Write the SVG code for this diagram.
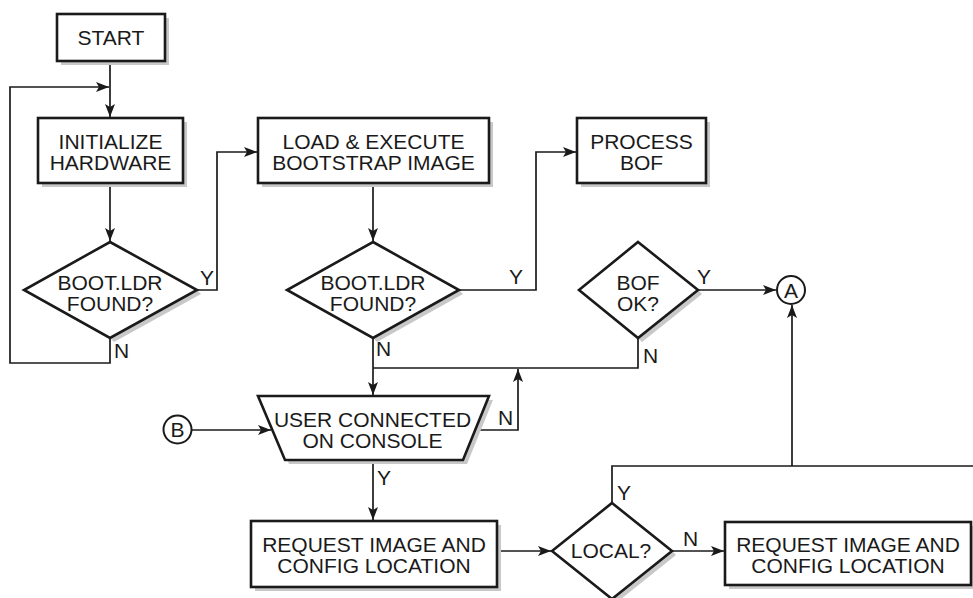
<svg xmlns="http://www.w3.org/2000/svg" width="973" height="598" viewBox="0 0 973 598">
<style>
.box{fill:#fff;stroke:#1a1a1a;stroke-width:2.6}
.sh{fill:#c8c8c8;stroke:none}
.t{font-family:"Liberation Sans",Arial,sans-serif;font-size:21px;fill:#1a1a1a;text-anchor:middle}
.l{font-family:"Liberation Sans",Arial,sans-serif;font-size:21px;fill:#1a1a1a}
.c{fill:none;stroke:#1a1a1a;stroke-width:1.7}
.a{marker-end:url(#arr)}
.circ{fill:#fff;stroke:#1a1a1a;stroke-width:2}
</style>
<defs>
<marker id="arr" markerUnits="userSpaceOnUse" markerWidth="14" markerHeight="10" refX="13" refY="5" orient="auto">
<path d="M0,0 L13,5 L0,10 L3,5 Z" fill="#1a1a1a"/>
</marker>
</defs>
<rect width="973" height="598" fill="#fff"/>

<g id="connectors">
<path class="c a" d="M110,61 V117"/>
<path class="c a" d="M110,338 V363 H10 V87 H109"/>
<path class="c a" d="M110,183 V241"/>
<path class="c a" d="M197,290 H217 V152 H257"/>
<path class="c a" d="M373,183 V241"/>
<path class="c a" d="M459,290 H536 V152 H576"/>
<path class="c a" d="M698,290 H776"/>
<path class="c a" d="M373,338 V395"/>
<path class="c" d="M638,338 V368 H373"/>
<path class="c a" d="M475,430 H518 V369"/>
<path class="c a" d="M192,430 H271"/>
<path class="c a" d="M373,460 V520"/>
<path class="c a" d="M497,551 H551"/>
<path class="c a" d="M672,551 H724"/>
<path class="c" d="M612,503 V466 H973"/>
<path class="c a" d="M792,466 V305"/>
<path class="c" d="M971,555 H973"/>
</g>

<g id="start">
<rect class="sh" x="61" y="18" width="108" height="47"/>
<rect class="box" x="57" y="14" width="108" height="47"/>
<text class="t" x="111" y="45">START</text>
</g>

<g id="init">
<rect class="sh" x="42" y="122" width="145" height="65"/>
<rect class="box" x="38" y="118" width="145" height="65"/>
<text class="t" x="110.5" y="149">INITIALIZE</text>
<text class="t" x="110.5" y="170">HARDWARE</text>
</g>

<g id="d1">
<polygon class="sh" points="197,290 110,338 114,342 201,294"/>
<polygon class="box" points="110,242 197,290 110,338 24,290"/>
<text class="t" x="110" y="290">BOOT.LDR</text>
<text class="t" x="110" y="311">FOUND?</text>
</g>

<g id="load">
<rect class="sh" x="262" y="122" width="231" height="65"/>
<rect class="box" x="258" y="118" width="231" height="65"/>
<text class="t" x="373.5" y="149">LOAD &amp; EXECUTE</text>
<text class="t" x="373.5" y="170">BOOTSTRAP IMAGE</text>
</g>

<g id="d2">
<polygon class="sh" points="459,290 373,338 377,342 463,294"/>
<polygon class="box" points="373,242 459,290 373,338 287,290"/>
<text class="t" x="373" y="290">BOOT.LDR</text>
<text class="t" x="373" y="311">FOUND?</text>
</g>

<g id="process">
<rect class="sh" x="581" y="122" width="129" height="65"/>
<rect class="box" x="577" y="118" width="129" height="65"/>
<text class="t" x="641.5" y="149">PROCESS</text>
<text class="t" x="641.5" y="170">BOF</text>
</g>

<g id="bofok">
<polygon class="sh" points="698,290 638,338 642,342 702,294"/>
<polygon class="box" points="638,242 698,290 638,338 579,290"/>
<text class="t" x="638" y="290">BOF</text>
<text class="t" x="638" y="311">OK?</text>
</g>

<g id="conA">
<circle class="circ" cx="791" cy="290" r="14"/>
<text class="t" x="791" y="298">A</text>
</g>

<g id="conB">
<circle class="circ" cx="177.5" cy="429.5" r="14"/>
<text class="t" x="177.5" y="437">B</text>
</g>

<g id="user">
<polygon class="sh" points="262,400 493,400 467,464 289,464"/>
<polygon class="box" points="258,396 489,396 463,460 285,460"/>
<text class="t" x="372.5" y="427">USER CONNECTED</text>
<text class="t" x="372.5" y="448">ON CONSOLE</text>
</g>

<g id="req1">
<rect class="sh" x="255" y="525" width="246" height="66"/>
<rect class="box" x="251" y="521" width="246" height="66"/>
<text class="t" x="374" y="552">REQUEST IMAGE AND</text>
<text class="t" x="374" y="573">CONFIG LOCATION</text>
</g>

<g id="local">
<polygon class="sh" points="672,551 612,599 616,603 676,555"/>
<polygon class="box" points="612,503 672,551 612,599 552,551"/>
<text class="t" x="611" y="558">LOCAL?</text>
</g>

<g id="req2">
<rect class="sh" x="729" y="526" width="246" height="63"/>
<rect class="box" x="725" y="522" width="246" height="63"/>
<text class="t" x="848" y="552">REQUEST IMAGE AND</text>
<text class="t" x="848" y="573">CONFIG LOCATION</text>
</g>

<g id="labels">
<text class="l" x="200" y="285">Y</text>
<text class="l" x="114" y="358">N</text>
<text class="l" x="509" y="284">Y</text>
<text class="l" x="376" y="356">N</text>
<text class="l" x="697" y="284">Y</text>
<text class="l" x="643" y="363">N</text>
<text class="l" x="498" y="425">N</text>
<text class="l" x="377" y="485">Y</text>
<text class="l" x="617" y="500">Y</text>
<text class="l" x="683" y="546">N</text>
</g>
</svg>
